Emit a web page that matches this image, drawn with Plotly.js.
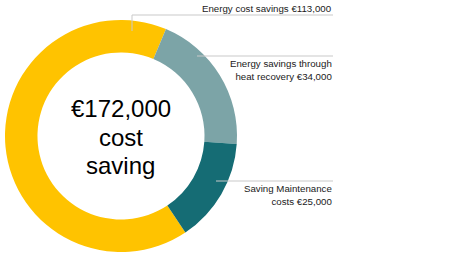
<!DOCTYPE html>
<html>
<head>
<meta charset="utf-8">
<script src="https://cdn.plot.ly/plotly-3.0.1.min.js"></script>
<style>html,body{margin:0;padding:0;background:#fff}#chart{width:460px;height:258px}</style>
</head>
<body>
<div id="chart"></div>
<script>
const categories = ["Energy cost savings", "Energy savings through heat recovery", "Saving Maintenance costs"];
const values = [113000, 34000, 25000];
const labelTexts = ["Energy cost savings €113,000", "Energy savings through<br>heat recovery €34,000", "Saving Maintenance<br>costs €25,000"];
const centerLines = ["€172,000", "cost", "saving"];
const colors = ["#FFC300", "#7CA4A7", "#156C74"];

const W = 460, H = 258;
const px = x => x / W;
const py = y => 1 - y / H;
const FONT = "Liberation Sans, Arial, Helvetica, sans-serif";

const trace = {
  type: "pie",
  labels: categories,
  values: values,
  hole: 0.72,
  sort: false,
  direction: "clockwise",
  rotation: 146.3,
  textinfo: "none",
  hoverinfo: "label+value",
  marker: {colors: colors, line: {width: 0}},
  domain: {x: [px(5), px(237)], y: [py(252), py(20)]},
  showlegend: false
};

const lineColor = "#c9c9c9";
const shapes = [
  {type: "path", xref: "paper", yref: "paper",
   path: `M ${px(132)} ${py(31)} L ${px(132)} ${py(15)} L ${px(333)} ${py(15)}`,
   line: {color: lineColor, width: 1}},
  {type: "line", xref: "paper", yref: "paper", x0: px(197), y0: py(56), x1: px(333), y1: py(56),
   line: {color: lineColor, width: 1}},
  {type: "line", xref: "paper", yref: "paper", x0: px(216), y0: py(181), x1: px(333), y1: py(181),
   line: {color: lineColor, width: 1}}
];

const labelY = [8, 69.5, 195];
const annotations = labelTexts.map((t, i) => ({
  xref: "paper", yref: "paper", x: px(334), y: py(labelY[i]),
  xanchor: "right", yanchor: "middle", align: "right", showarrow: false,
  text: t, font: {family: FONT, size: 9.7, color: "#1a1a1a"}
}));
const centerY = [108, 137, 165];
centerLines.forEach((t, i) => annotations.push({
  xref: "paper", yref: "paper", x: px(121), y: py(centerY[i]),
  xanchor: "center", yanchor: "middle", showarrow: false,
  text: t, font: {family: FONT, size: 24, color: "#000"}
}));

Plotly.newPlot("chart", [trace], {
  width: W, height: H,
  margin: {l: 0, r: 0, t: 0, b: 0},
  paper_bgcolor: "#fff",
  shapes: shapes,
  annotations: annotations
}, {staticPlot: true});
</script>
</body>
</html>
